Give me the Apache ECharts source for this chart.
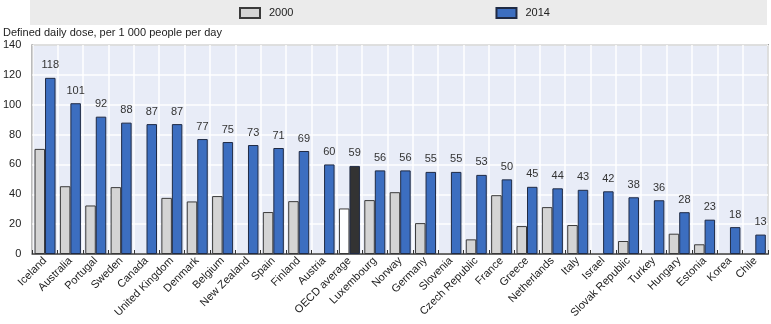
<!DOCTYPE html>
<html>
<head>
<meta charset="utf-8">
<script src="https://cdn.jsdelivr.net/npm/echarts@6/dist/echarts.min.js"></script>
<style>html,body{margin:0;padding:0;background:#fff;}#chart{width:771px;height:324px;}</style>
</head>
<body>
<div id="chart"></div>
<script>
var categories = ["Iceland","Australia","Portugal","Sweden","Canada","United Kingdom","Denmark","Belgium","New Zealand","Spain","Finland","Austria","OECD average","Luxembourg","Norway","Germany","Slovenia","Czech Republic","France","Greece","Netherlands","Italy","Israel","Slovak Republic","Turkey","Hungary","Estonia","Korea","Chile"];
var values2000 = [70.4,45.4,32.5,44.8,null,37.6,35.2,38.8,null,28.1,35.4,null,30.5,36.1,41.4,20.7,null,9.8,39.4,18.7,31.4,19.4,null,8.7,null,13.6,6.5,null,null];
var values2014 = [118,101,92,88,87,87,77,75,73,71,69,60,59,56,56,55,55,53,50,45,44,43,42,38,36,28,23,18,13];
var yTicks = [0,20,40,60,80,100,120,140];
var seriesNames = ["2000","2014"];
var yTitle = "Defined daily dose, per 1 000 people per day";
var highlight = "OECD average";

var FONT = "'Liberation Sans Narrow','Arial Narrow','Liberation Sans',Arial,sans-serif";
var chart = echarts.init(document.getElementById('chart'), null, {renderer:'canvas'});

var d2000 = values2000.map(function(v,i){
  if (v === null) return '-';
  if (categories[i] === highlight) return {value:v, itemStyle:{color:'#ffffff'}};
  return v;
});
var d2014 = values2014.map(function(v,i){
  if (categories[i] === highlight) return {value:v, itemStyle:{color:'#333333'}};
  return v;
});

chart.setOption({
  animation:false,
  textStyle:{fontFamily:FONT},
  title:{text:yTitle, left:3, top:27, padding:0, textStyle:{fontSize:11, fontWeight:'normal', color:'#222', fontFamily:FONT}},
  graphic:[{type:'rect', shape:{x:30, y:0, width:737, height:25}, style:{fill:'#ebebeb'}, z:-10}],
  legend:{left:239, top:7, padding:0, itemWidth:20, itemHeight:10, itemGap:202, icon:'rect', data:seriesNames,
    textStyle:{fontSize:11, color:'#222', fontFamily:FONT, padding:[0,0,0,4]}},
  grid:{left:31, right:3, top:45, bottom:70, show:true, backgroundColor:'#e8ecf7', borderColor:'#555', borderWidth:1.5},
  xAxis:{type:'category', data:categories,
    axisLine:{show:true, lineStyle:{color:'#444', width:1.5}},
    axisTick:{show:true, inside:true, length:4, lineStyle:{color:'#333'}},
    splitLine:{show:true, lineStyle:{color:'#ffffff', width:1.5}},
    axisLabel:{rotate:45, interval:0, fontSize:11, color:'#222', margin:5, fontFamily:FONT}},
  yAxis:{type:'value', min:0, max:140, interval:20,
    axisLine:{show:false}, axisTick:{show:false},
    splitLine:{show:true, lineStyle:{color:'#ffffff', width:1.5}},
    axisLabel:{fontSize:11, color:'#222', margin:11, fontFamily:FONT,
      formatter:function(v){return yTicks.indexOf(v)>=0 ? String(v) : '';}}},
  series:[
    {name:seriesNames[0], type:'bar', data:d2000, barWidth:10.5, barGap:'0%',
      itemStyle:{color:'#d4d4d4', borderColor:'#3a3a3a', borderWidth:1}},
    {name:seriesNames[1], type:'bar', data:d2014, barWidth:10.5,
      itemStyle:{color:'#3c6ec0', borderColor:'#1f2a44', borderWidth:1},
      label:{show:true, position:'top', distance:7, fontSize:11, color:'#333', fontFamily:FONT}}
  ]
});
</script>
</body>
</html>
